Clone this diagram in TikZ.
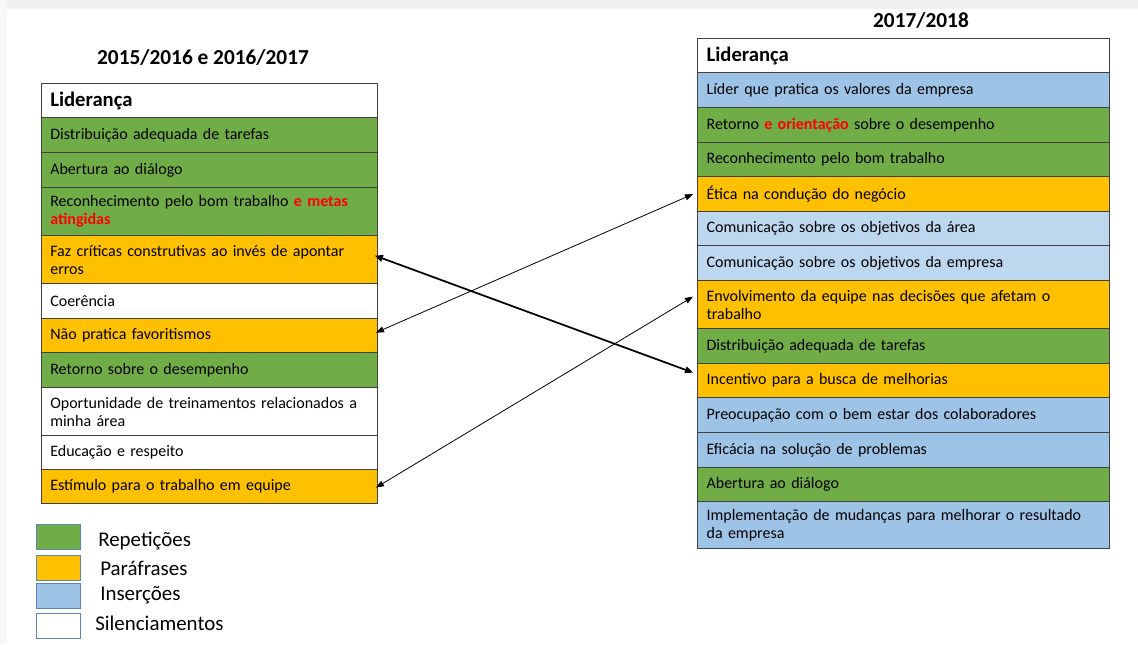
\documentclass[tikz,border=0pt]{standalone}
\usepackage{fontspec}
\setmainfont{Carlito}
\usetikzlibrary{arrows.meta,calc}
\definecolor{cgreen}{HTML}{70AD47}
\definecolor{corange}{HTML}{FFC000}
\definecolor{cblue}{HTML}{9DC3E6}
\definecolor{clblue}{HTML}{BDD7EE}
\definecolor{cborder}{HTML}{404040}
\definecolor{clegend}{HTML}{5B86B8}
\definecolor{cred}{HTML}{FF0000}
\newcommand{\rd}[1]{{\color{cred}\bfseries #1}}
\newcommand{\cellrow}[7]{%
  \pgfmathsetmacro\cwid{#5*0.75}%
  \pgfmathsetmacro\chgt{(#4-#3)*0.75}%
  \pgfmathsetmacro\ctw{#5*0.75-13.5}%
  \node[cellbox, fill=#6, minimum width=\cwid pt, minimum height=\chgt pt, text width=\ctw pt] (#1) at (#2,#3) {#7};%
}
\begin{document}
\begin{tikzpicture}[x=0.75pt,y=-0.75pt,
  cellbox/.style={rectangle, draw=cborder, line width=0.9pt, anchor=north west, inner xsep=6.75pt, inner ysep=0pt, align=left, font=\fontsize{12}{13.5}\selectfont},
  titletext/.style={font=\fontsize{16}{18}\selectfont\bfseries},
  legbox/.style={rectangle, draw=clegend, line width=0.8pt, anchor=north west, minimum width=33pt, minimum height=19pt, inner sep=0pt},
  legtext/.style={anchor=west, font=\fontsize{15.7}{17}\selectfont, inner sep=0pt},
  thinarrow/.style={{Triangle[length=6pt,width=4.5pt]}-{Triangle[length=6pt,width=4.5pt]}, line width=0.6pt},
  thickarrow/.style={{Triangle[length=6pt,width=5pt]}-{Triangle[length=6pt,width=5pt]}, line width=1.3pt}
]
\useasboundingbox (0,0) rectangle (1138,644);
\fill[white] (0,0) rectangle (1138,644);
\fill[black!6] (0,0) rectangle (1138,9);
\fill[black!3] (0,0) rectangle (7,644);

% titles
\node[titletext] (t1) at (203,57) {2015/2016 e 2016/2017};
\node[titletext] (t2) at (921,20) {2017/2018};

% left table
\cellrow{L0}{40.7}{83}{117}{336}{white}{\fontsize{15.5}{17}\selectfont\bfseries Liderança}
\cellrow{L1}{40.7}{117}{152}{336}{cgreen}{Distribuição adequada de tarefas}
\cellrow{L2}{40.7}{152}{187}{336}{cgreen}{Abertura ao diálogo}
\cellrow{L3}{40.7}{187}{235}{336}{cgreen}{Reconhecimento pelo bom trabalho \rd{e metas}\\\rd{atingidas}}
\cellrow{L4}{40.7}{235}{283}{336}{corange}{Faz críticas construtivas ao invés de apontar\\erros}
\cellrow{L5}{40.7}{283}{318}{336}{white}{Coerência}
\cellrow{L6}{40.7}{318}{352}{336}{corange}{Não pratica favoritismos}
\cellrow{L7}{40.7}{352}{387}{336}{cgreen}{Retorno sobre o desempenho}
\cellrow{L8}{40.7}{387}{435}{336}{white}{Oportunidade de treinamentos relacionados a\\minha área}
\cellrow{L9}{40.7}{435}{469}{336}{white}{Educação e respeito}
\cellrow{L10}{40.7}{469}{503}{336}{corange}{Estímulo para o trabalho em equipe}

% right table
\cellrow{R0}{697}{38}{72}{412}{white}{\fontsize{15.5}{17}\selectfont\bfseries Liderança}
\cellrow{R1}{697}{72}{107}{412}{cblue}{Líder que pratica os valores da empresa}
\cellrow{R2}{697}{107}{142}{412}{cgreen}{Retorno \rd{e orientação} sobre o desempenho}
\cellrow{R3}{697}{142}{176}{412}{cgreen}{Reconhecimento pelo bom trabalho}
\cellrow{R4}{697}{176}{211}{412}{corange}{Ética na condução do negócio}
\cellrow{R5}{697}{211}{245}{412}{clblue}{Comunicação sobre os objetivos da área}
\cellrow{R6}{697}{245}{280}{412}{clblue}{Comunicação sobre os objetivos da empresa}
\cellrow{R7}{697}{280}{328}{412}{corange}{Envolvimento da equipe nas decisões que afetam o\\trabalho}
\cellrow{R8}{697}{328}{363}{412}{cgreen}{Distribuição adequada de tarefas}
\cellrow{R9}{697}{363}{397}{412}{corange}{Incentivo para a busca de melhorias}
\cellrow{R10}{697}{397}{432}{412}{cblue}{Preocupação com o bem estar dos colaboradores}
\cellrow{R11}{697}{432}{467}{412}{cblue}{Eficácia na solução de problemas}
\cellrow{R12}{697}{467}{501}{412}{cgreen}{Abertura ao diálogo}
\cellrow{R13}{697}{501}{548}{412}{cblue}{Implementação de mudanças para melhorar o resultado\\da empresa}

% connectors
\coordinate (a1) at ($(L4.east)+(-3,-4)$);
\coordinate (b1) at ($(R9.west)+(-4,-8)$);
\coordinate (a2) at ($(L6.east)+(-2,-3)$);
\coordinate (b2) at ($(R4.west)+(-4,0)$);
\coordinate (a3) at ($(L10.east)+(-2,1)$);
\coordinate (b3) at ($(R7.west)+(-4,-8)$);
\draw[thickarrow] (a1) -- (b1);
\draw[thinarrow] (a2) -- (b2);
\draw[thinarrow] (a3) -- (b3);

% legend
\node[legbox, fill=cgreen] (k1) at (36,524) {};
\node[legbox, fill=corange] (k2) at (36,555) {};
\node[legbox, fill=cblue] (k3) at (36,583) {};
\node[legbox, fill=white] (k4) at (36,613) {};
\node[legtext] (k1t) at (98,541) {Repetições};
\node[legtext] (k2t) at (100,568) {Paráfrases};
\node[legtext] (k3t) at (100,595) {Inserções};
\node[legtext] (k4t) at (95,623) {Silenciamentos};
\end{tikzpicture}
\end{document}
